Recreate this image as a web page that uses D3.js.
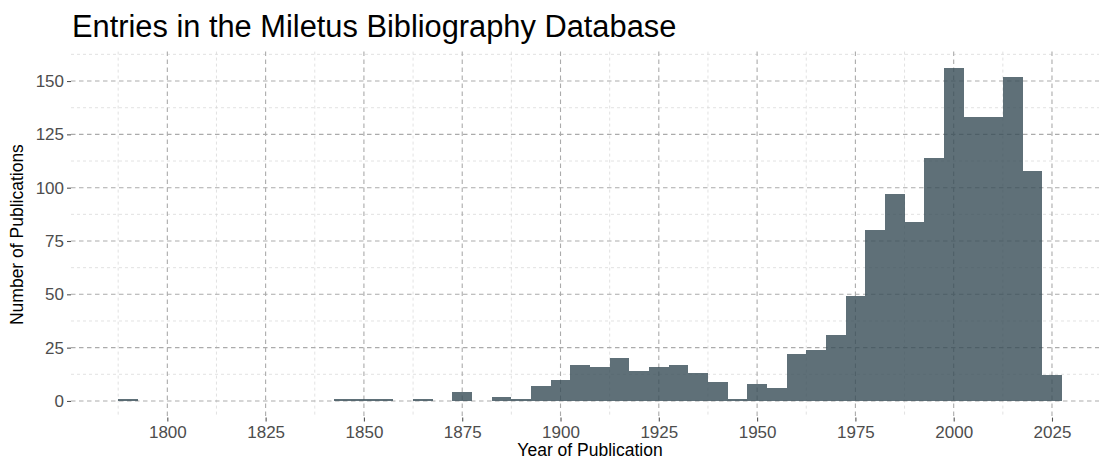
<!DOCTYPE html>
<html>
<head>
<meta charset="utf-8">
<script src="https://cdn.jsdelivr.net/npm/d3@7"></script>
<style>
  body { margin: 0; background: #fff; }
  svg { display: block; font-family: "Liberation Sans", Arial, sans-serif; }
</style>
</head>
<body>
<svg id="chart" width="1099" height="461"></svg>
<script>
// bin centres (5-year bins) and publication counts
const binYears = [1790, 1845, 1850, 1855, 1865, 1875, 1885, 1890, 1895, 1900,
                  1905, 1910, 1915, 1920, 1925, 1930, 1935, 1940, 1945, 1950,
                  1955, 1960, 1965, 1970, 1975, 1980, 1985, 1990, 1995, 2000,
                  2005, 2010, 2015, 2020, 2025];
const counts   = [1, 1, 1, 1, 1, 4, 2, 1, 7, 10,
                  17, 16, 20, 14, 16, 17, 13, 9, 1, 8,
                  6, 22, 24, 31, 49, 80, 97, 84, 114, 156,
                  133, 133, 152, 108, 12];
const binWidth = 5;
const xTicks = [1800, 1825, 1850, 1875, 1900, 1925, 1950, 1975, 2000, 2025];
const yTicks = [0, 25, 50, 75, 100, 125, 150];

const svg = d3.select('#chart');

// ggplot-style 5% expansion around the data range
const xMin = d3.min(binYears) - binWidth / 2;
const xMax = d3.max(binYears) + binWidth / 2;
const xPad = (xMax - xMin) * 0.05;
const yMax = d3.max(counts);
const yPad = yMax * 0.05;

const x = d3.scaleLinear().domain([xMin - xPad, xMax + xPad]).range([71, 1109]);
const y = d3.scaleLinear().domain([-yPad, yMax + yPad]).range([417.6, 51.6]);

const [pL, pR] = x.range();
const [pB, pT] = y.range();

// minor grid
const xMinor = d3.range(xTicks[0] - 12.5, xMax + xPad, 25);
const yMinor = d3.range(12.5, yMax + yPad, 25);

const grid = svg.append('g');
grid.selectAll('line.xminor').data(xMinor).join('line')
    .attr('x1', d => x(d)).attr('x2', d => x(d))
    .attr('y1', pT).attr('y2', pB)
    .attr('stroke', '#d6d6d6').attr('stroke-width', 0.7)
    .attr('stroke-dasharray', '3,3');
grid.selectAll('line.yminor').data(yMinor).join('line')
    .attr('x1', pL).attr('x2', pR)
    .attr('y1', d => y(d)).attr('y2', d => y(d))
    .attr('stroke', '#d6d6d6').attr('stroke-width', 0.7)
    .attr('stroke-dasharray', '3,3');

// major grid
grid.selectAll('line.xmajor').data(xTicks).join('line')
    .attr('x1', d => x(d)).attr('x2', d => x(d))
    .attr('y1', pT).attr('y2', pB)
    .attr('stroke', '#ababab').attr('stroke-width', 1.1)
    .attr('stroke-dasharray', '4.5,3.5');
grid.selectAll('line.ymajor').data(yTicks).join('line')
    .attr('x1', pL).attr('x2', pR)
    .attr('y1', d => y(d)).attr('y2', d => y(d))
    .attr('stroke', '#ababab').attr('stroke-width', 1.1)
    .attr('stroke-dasharray', '4.5,3.5');

// bars (semi-transparent, grid shows through)
svg.append('g').selectAll('rect')
    .data(binYears.map((yr, i) => ({ yr, n: counts[i] })))
    .join('rect')
    .attr('x', d => x(d.yr - binWidth / 2))
    .attr('width', d => x(d.yr + binWidth / 2) - x(d.yr - binWidth / 2))
    .attr('y', d => y(d.n))
    .attr('height', d => y(0) - y(d.n))
    .attr('fill', '#374c56')
    .attr('fill-opacity', 0.8)
    .attr('shape-rendering', 'crispEdges');

// axes
const xAxis = svg.append('g')
    .attr('transform', `translate(0,${pB})`)
    .call(d3.axisBottom(x).tickValues(xTicks).tickFormat(d3.format('d')).tickSize(4).tickPadding(4));
const yAxis = svg.append('g')
    .attr('transform', `translate(${pL},0)`)
    .call(d3.axisLeft(y).tickValues(yTicks).tickSize(4).tickPadding(3));

[xAxis, yAxis].forEach(a => {
    a.select('.domain').remove();
    a.selectAll('.tick line').attr('stroke', '#555').attr('stroke-width', 1.1);
    a.selectAll('.tick text')
        .attr('fill', '#4d4d4d')
        .style('font-size', '17px')
        .style('font-family', '"Liberation Sans", Arial, sans-serif');
});

// titles
svg.append('text')
    .attr('x', 72).attr('y', 37)
    .style('font-size', '30.8px')
    .attr('fill', '#000')
    .text('Entries in the Miletus Bibliography Database');

svg.append('text')
    .attr('x', 590).attr('y', 456)
    .attr('text-anchor', 'middle')
    .style('font-size', '17.5px')
    .attr('fill', '#000')
    .text('Year of Publication');

svg.append('text')
    .attr('transform', `translate(23,${(pT + pB) / 2}) rotate(-90)`)
    .attr('text-anchor', 'middle')
    .style('font-size', '17.5px')
    .attr('fill', '#000')
    .text('Number of Publications');
</script>
</body>
</html>
